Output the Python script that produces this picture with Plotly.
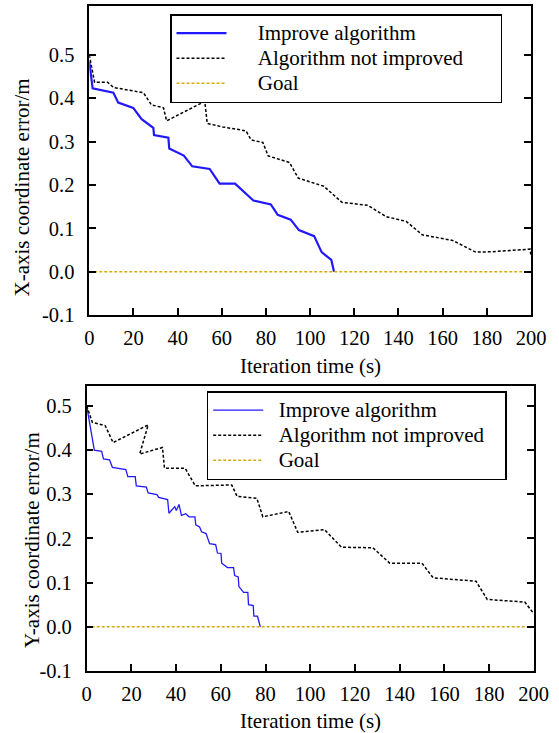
import plotly.graph_objects as go

# ---- data ----
x_ticks = [0, 20, 40, 60, 80, 100, 120, 140, 160, 180, 200]
x_ticktext = ["0", "20", "40", "60", "80", "100", "120", "140", "160", "180", "200"]
y_ticks = [-0.1, 0.0, 0.1, 0.2, 0.3, 0.4, 0.5]
y_ticktext = ["-0.1", "0.0", "0.1", "0.2", "0.3", "0.4", "0.5"]

series_names = ["Improve algorithm", "Algorithm not improved", "Goal"]

# Top panel: X-axis coordinate error
x1_imp = [0, 1.5, 10.9, 13.1, 19.9, 23.7, 29.0, 29.3, 35.8, 36.2, 42.8, 46.6, 54.5,
          59.0, 66.0, 74.3, 82.2, 85.3, 91.2, 94.9, 101.8, 105.2, 109.6, 110.8]
y1_imp = [0.485, 0.423, 0.413, 0.390, 0.378, 0.352, 0.332, 0.315, 0.309, 0.284, 0.268,
          0.243, 0.237, 0.203, 0.203, 0.164, 0.155, 0.131, 0.120, 0.096, 0.082, 0.045,
          0.027, 0.0]

x1_not = [0, 2.4, 8.3, 11.0, 24.5, 28.1, 33.6, 35.0, 52.3, 53.4, 60.4, 70.9, 73.3,
          78.6, 81.0, 90.6, 94.6, 106.2, 114.4, 126.1, 134.4, 143.5, 150.8, 164.5,
          175.0, 182.2, 199.6, 200.0]
y1_not = [0.500, 0.437, 0.437, 0.425, 0.413, 0.385, 0.378, 0.348, 0.393, 0.342, 0.334,
          0.325, 0.304, 0.298, 0.267, 0.252, 0.216, 0.197, 0.160, 0.153, 0.127, 0.116,
          0.085, 0.072, 0.045, 0.046, 0.052, 0.035]

# Bottom panel: Y-axis coordinate error
x2_imp = [0, 3.4, 6.7, 7.5, 10.2, 11.5, 17.5, 18.4, 21.7, 22.2, 26.7, 27.5, 31.4, 32.2,
          36.2, 36.8, 39.4, 40.1, 41.3, 42.4, 44.3, 45.8, 48.4, 48.8, 50.5, 51.4, 53.4,
          55.0, 57.7, 58.5, 60.1, 60.4, 63.0, 65.7, 66.2, 67.8, 68.1, 70.2, 72.1, 72.4,
          74.5, 74.8, 76.4, 77.2, 77.7]
y2_imp = [0.500, 0.400, 0.397, 0.380, 0.378, 0.361, 0.356, 0.340, 0.340, 0.319, 0.316,
          0.303, 0.299, 0.293, 0.288, 0.257, 0.272, 0.263, 0.277, 0.252, 0.256, 0.249,
          0.249, 0.231, 0.226, 0.215, 0.211, 0.188, 0.186, 0.167, 0.166, 0.144, 0.134,
          0.134, 0.116, 0.113, 0.091, 0.078, 0.078, 0.050, 0.048, 0.024, 0.024, 0.008,
          0.0]

x2_not = [0, 2.5, 8.3, 11.8, 27.5, 23.7, 33.9, 34.8, 44.0, 48.6, 64.9, 67.3, 76.1,
          78.8, 90.4, 94.4, 106.4, 114.0, 128.0, 135.6, 150.0, 155.0, 174.2, 179.2,
          196.0, 200.0]
y2_not = [0.500, 0.463, 0.455, 0.417, 0.457, 0.391, 0.406, 0.359, 0.359, 0.319, 0.321,
          0.295, 0.291, 0.249, 0.261, 0.214, 0.220, 0.180, 0.179, 0.144, 0.144, 0.111,
          0.103, 0.062, 0.056, 0.030]

goal_x = [0, 200]
goal_y = [0.0, 0.0]

# ---- styling ----
W, H = 559, 733
FONT = "Liberation Serif, Times New Roman, serif"
BLUE = "#2218ff"
BLACK = "#000000"
GOLD = "#d6aa0c"
DASH = "3px,2px"
NB = "\u00a0"
LEG_TEXT_SIZE = 21

fig = go.Figure()


def leg_label(name, lead, trail=0):
    return ("<span style='font-size:%dpx'>%s%s%s</span>"
            % (LEG_TEXT_SIZE, NB * lead, name, NB * trail))


def add_panel(xi, yi, xn, yn, xa, ya, leg, blue_w, lead, trail):
    fig.add_trace(go.Scatter(x=xi, y=yi, mode="lines",
                             name=leg_label(series_names[0], lead),
                             line=dict(color=BLUE, width=blue_w), xaxis=xa, yaxis=ya,
                             legend=leg))
    fig.add_trace(go.Scatter(x=xn, y=yn, mode="lines",
                             name=leg_label(series_names[1], lead, trail),
                             line=dict(color=BLACK, width=1.5, dash=DASH), xaxis=xa,
                             yaxis=ya, legend=leg))
    fig.add_trace(go.Scatter(x=goal_x, y=goal_y, mode="lines",
                             name=leg_label(series_names[2], lead),
                             line=dict(color=GOLD, width=1.5, dash=DASH), xaxis=xa,
                             yaxis=ya, legend=leg))


add_panel(x1_imp, y1_imp, x1_not, y1_not, "x", "y", "legend", 2.2, 5, 6)
add_panel(x2_imp, y2_imp, x2_not, y2_not, "x2", "y2", "legend2", 1.3, 2, 3)

tickfont = dict(family=FONT, size=20.5, color="black")


def xaxis(domain, anchor):
    return dict(domain=domain, anchor=anchor, range=[0, 200], tickvals=x_ticks,
                ticktext=x_ticktext, ticks="inside", ticklen=7, tickwidth=1.5,
                tickcolor="black", showline=True, linewidth=1.5, linecolor="black",
                mirror=True, showgrid=False, zeroline=False, tickfont=tickfont,
                ticklabelstandoff=4, automargin=False)


def yaxis(domain, anchor, top):
    return dict(domain=domain, anchor=anchor, range=[-0.1, top], tickvals=y_ticks,
                ticktext=y_ticktext, ticks="inside", ticklen=7, tickwidth=1.5,
                tickcolor="black", showline=True, linewidth=1.5, linecolor="black",
                mirror="ticks", showgrid=False, zeroline=False, tickfont=tickfont,
                ticklabelstandoff=9, automargin=False)


# panel pixel boxes
t_l, t_r, t_t, t_b = 89.3, 531.0, 6.0, 315.0
b_l, b_r, b_t, b_b = 86.7, 533.7, 386.0, 671.0

legfont = dict(family=FONT, size=17, color="black")
title_font = dict(family=FONT, size=21, color="black")


def ann(text, x, y, angle=0):
    return dict(text=text, x=x / W, y=1 - y / H, xref="paper", yref="paper",
                xanchor="center", yanchor="middle", showarrow=False, textangle=angle,
                font=title_font)


fig.update_layout(
    width=W, height=H, autosize=False,
    margin=dict(l=0, r=0, t=0, b=0, pad=0, autoexpand=False),
    paper_bgcolor="white", plot_bgcolor="white",
    xaxis=xaxis([t_l / W, t_r / W], "y"),
    yaxis=yaxis([1 - t_b / H, 1 - t_t / H], "x", 0.613),
    xaxis2=xaxis([b_l / W, b_r / W], "y2"),
    yaxis2=yaxis([1 - b_b / H, 1 - b_t / H], "x2", 0.545),
    legend=dict(x=170 / W, y=1 - 14 / H, xanchor="left", yanchor="top",
                bordercolor="black", borderwidth=1.5, bgcolor="white",
                font=legfont, itemwidth=50, tracegroupgap=0),
    legend2=dict(x=206.7 / W, y=1 - 391 / H, xanchor="left", yanchor="top",
                 bordercolor="black", borderwidth=1.5, bgcolor="white",
                 font=legfont, itemwidth=50, tracegroupgap=0),
    annotations=[
        ann("Iteration time (s)", 310, 366),
        ann("Iteration time (s)", 310, 721),
        ann("X-axis coordinate error/m", 21, 187.5, -90),
        ann("Y-axis coordinate error/m", 32, 540, -90),
    ],
)

fig.write_html("out.html",
               config={"displayModeBar": False},
               post_script="document.body.style.margin='0';"
                           "document.body.style.overflow='hidden';")
